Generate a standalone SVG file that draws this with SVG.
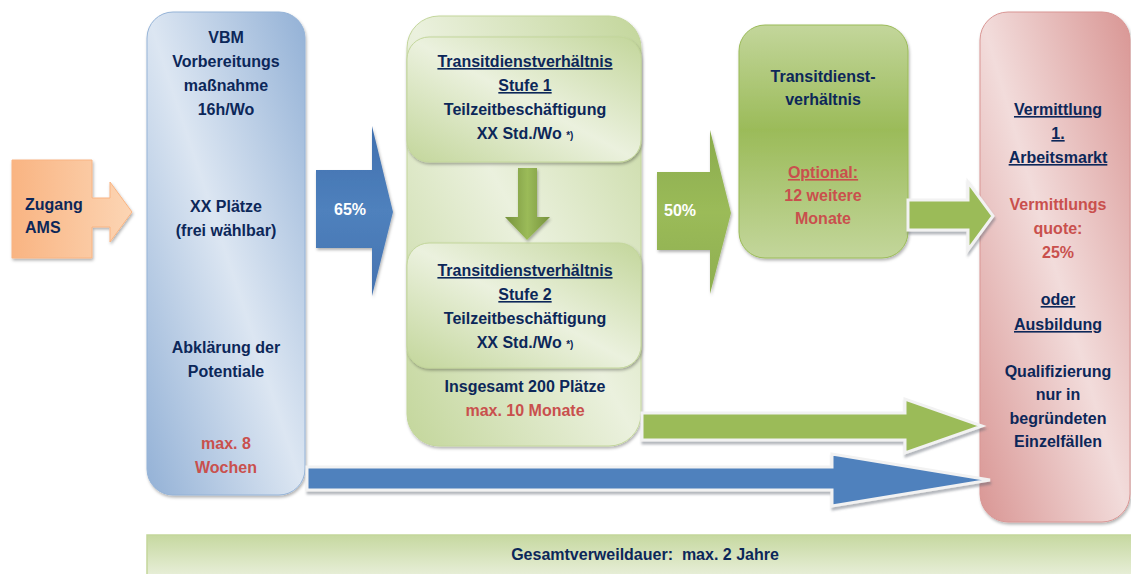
<svg xmlns="http://www.w3.org/2000/svg" width="1131" height="574" viewBox="0 0 1131 574">
<defs>
  <linearGradient id="gBlue" x1="0" y1="1" x2="1" y2="0">
    <stop offset="0" stop-color="#93b1d6"/>
    <stop offset="0.5" stop-color="#dce6f2"/>
    <stop offset="1" stop-color="#93b1d6"/>
  </linearGradient>
  <linearGradient id="gGreenL" x1="0" y1="1" x2="1" y2="0">
    <stop offset="0" stop-color="#c3d69b"/>
    <stop offset="0.5" stop-color="#ebf1de"/>
    <stop offset="1" stop-color="#c3d69b"/>
  </linearGradient>
  <linearGradient id="gRed" x1="0" y1="1" x2="1" y2="0">
    <stop offset="0" stop-color="#d99694"/>
    <stop offset="0.5" stop-color="#f2dcdb"/>
    <stop offset="1" stop-color="#d99694"/>
  </linearGradient>
  <linearGradient id="gGreenV" x1="0" y1="0" x2="0" y2="1">
    <stop offset="0" stop-color="#c3d69b"/>
    <stop offset="0.45" stop-color="#9bbb59"/>
    <stop offset="1" stop-color="#c3d69b"/>
  </linearGradient>
  <linearGradient id="gBar" x1="0" y1="0" x2="0" y2="1">
    <stop offset="0" stop-color="#c6d8a0"/>
    <stop offset="1" stop-color="#ebf1de"/>
  </linearGradient>
  <linearGradient id="gOrange" x1="0" y1="0" x2="1" y2="0">
    <stop offset="0" stop-color="#f9b482"/>
    <stop offset="1" stop-color="#fcd5b4"/>
  </linearGradient>
  <linearGradient id="gArrowBlue" x1="0" y1="0" x2="0" y2="1">
    <stop offset="0" stop-color="#3f6fae"/>
    <stop offset="0.5" stop-color="#4f81bd"/>
    <stop offset="1" stop-color="#4472b0"/>
  </linearGradient>
  <linearGradient id="gArrowGreen" x1="0" y1="0" x2="0" y2="1">
    <stop offset="0" stop-color="#8aab4c"/>
    <stop offset="0.5" stop-color="#9bbb59"/>
    <stop offset="1" stop-color="#8eae4f"/>
  </linearGradient>
  <linearGradient id="gDown" x1="0" y1="0" x2="1" y2="0">
    <stop offset="0" stop-color="#76923c"/>
    <stop offset="0.5" stop-color="#9bbb59"/>
    <stop offset="1" stop-color="#76923c"/>
  </linearGradient>
  <filter id="sh" x="-10%" y="-10%" width="120%" height="120%">
    <feDropShadow dx="1" dy="2" stdDeviation="1.5" flood-color="#000" flood-opacity="0.3"/>
  </filter>
  <filter id="shA" x="-10%" y="-20%" width="120%" height="150%">
    <feDropShadow dx="1" dy="3" stdDeviation="1" flood-color="#5a6470" flood-opacity="0.45"/>
  </filter>
  <style>
    text { font-family: "Liberation Sans", Arial, sans-serif; font-weight: bold; font-size: 16px; fill: #0c2759; text-anchor: middle; }
    .red { fill: #c9504d; }
    .wh { fill: #ffffff; }
    .u { text-decoration: underline; }
    .sm { font-size: 10px; }
  </style>
</defs>

<g id="bar-gesamt">
  <rect x="147" y="535" width="990" height="45" fill="url(#gBar)" stroke="#c3d69b" stroke-width="1.5"/>
  <text x="645" y="560">Gesamtverweildauer:&#160; max. 2 Jahre</text>
</g>

<g id="zugang-ams">
  <path d="M12,160 H92 V198 H110 V182 L132,212 L110,242 V227 H92 V258 H12 Z" fill="url(#gOrange)" stroke="#f9b482" stroke-width="1" filter="url(#sh)"/>
  <text x="25" y="210" style="text-anchor:start">Zugang</text>
  <text x="25" y="233" style="text-anchor:start">AMS</text>
</g>

<g id="vbm">
  <rect x="147" y="12" width="158" height="483" rx="26" fill="url(#gBlue)" stroke="#95b3d7" stroke-width="1" filter="url(#sh)"/>
  <text x="226" y="43">VBM</text>
  <text x="226" y="67">Vorbereitungs</text>
  <text x="226" y="91">maßnahme</text>
  <text x="226" y="115">16h/Wo</text>
  <text x="226" y="212">XX Plätze</text>
  <text x="226" y="236">(frei wählbar)</text>
  <text x="226" y="353">Abklärung der</text>
  <text x="226" y="377">Potentiale</text>
  <text class="red" x="226" y="449">max. 8</text>
  <text class="red" x="226" y="473">Wochen</text>
</g>

<g id="transit-stufen">
  <rect x="407" y="16" width="234" height="430" rx="32" fill="url(#gGreenL)" stroke="#c3d69b" stroke-width="1" filter="url(#sh)"/>
  <g id="stufe1">
    <rect x="407" y="37" width="234" height="125" rx="22" fill="url(#gGreenL)" stroke="#c3d69b" stroke-width="1" filter="url(#sh)"/>
    <text class="u" x="525" y="67">Transitdienstverhältnis</text>
    <text class="u" x="525" y="91">Stufe 1</text>
    <text x="525" y="115">Teilzeitbeschäftigung</text>
    <text x="525" y="139">XX Std./Wo <tspan class="sm">*)</tspan></text>
  </g>
  <g id="stufe2">
    <rect x="407" y="243" width="234" height="125" rx="22" fill="url(#gGreenL)" stroke="#c3d69b" stroke-width="1" filter="url(#sh)"/>
    <text class="u" x="525" y="276">Transitdienstverhältnis</text>
    <text class="u" x="525" y="300">Stufe 2</text>
    <text x="525" y="324">Teilzeitbeschäftigung</text>
    <text x="525" y="348">XX Std./Wo <tspan class="sm">*)</tspan></text>
  </g>
  <text x="525" y="392">Insgesamt 200 Plätze</text>
  <text class="red" x="525" y="416">max. 10 Monate</text>
</g>

<g id="transit-optional">
  <rect x="739" y="25" width="169" height="233" rx="26" fill="url(#gGreenV)" stroke="#9bbb59" stroke-width="1" filter="url(#sh)"/>
  <text x="823" y="82">Transitdienst-</text>
  <text x="823" y="105">verhältnis</text>
  <text class="red u" x="823" y="178">Optional:</text>
  <text class="red" x="823" y="201">12 weitere</text>
  <text class="red" x="823" y="224">Monate</text>
</g>

<g id="vermittlung">
  <rect x="980" y="12" width="150" height="510" rx="28" fill="url(#gRed)" stroke="#d99694" stroke-width="1" filter="url(#sh)"/>
  <text class="u" x="1058" y="115">Vermittlung</text>
  <text class="u" x="1058" y="139">1.</text>
  <text class="u" x="1058" y="163">Arbeitsmarkt</text>
  <text class="red" x="1058" y="210">Vermittlungs</text>
  <text class="red" x="1058" y="234">quote:</text>
  <text class="red" x="1058" y="258">25%</text>
  <text class="u" x="1058" y="305">oder</text>
  <text class="u" x="1058" y="330">Ausbildung</text>
  <text x="1058" y="377">Qualifizierung</text>
  <text x="1058" y="400">nur in</text>
  <text x="1058" y="424">begründeten</text>
  <text x="1058" y="447">Einzelfällen</text>
</g>

<g id="connectors">
  <g id="arrow-65">
    <path d="M316,170 H372 V126 L393,212 L372,296 V248 H316 Z" fill="url(#gArrowBlue)" filter="url(#sh)"/>
    <text class="wh" x="350" y="215">65%</text>
  </g>
  <path id="arrow-stufe" d="M518,168 H537 V217 H550 L527,240 L505,217 H518 Z" fill="url(#gDown)" filter="url(#sh)"/>
  <g id="arrow-50">
    <path d="M657,172 H710 V130 L731,213 L710,294 V250 H657 Z" fill="url(#gArrowGreen)" filter="url(#sh)"/>
    <text class="wh" x="680" y="216">50%</text>
  </g>
  <path id="arrow-optional-vermittlung" d="M908,200 H968 V182 L993,216 L968,250 V230 H908 Z" fill="#9bbb59" stroke="#f2f2f2" stroke-width="3" stroke-linejoin="miter" filter="url(#shA)"/>
  <path id="arrow-transit-vermittlung" d="M642,413 H905 V399 L982,426 L905,453 V440 H642 Z" fill="#9bbb59" stroke="#f2f2f2" stroke-width="3" filter="url(#shA)"/>
  <path id="arrow-vbm-vermittlung" d="M307,467 H832 V454 L990,480 L832,506 V490 H307 Z" fill="#4f81bd" stroke="#f2f2f2" stroke-width="3" filter="url(#shA)"/>
</g>
</svg>
